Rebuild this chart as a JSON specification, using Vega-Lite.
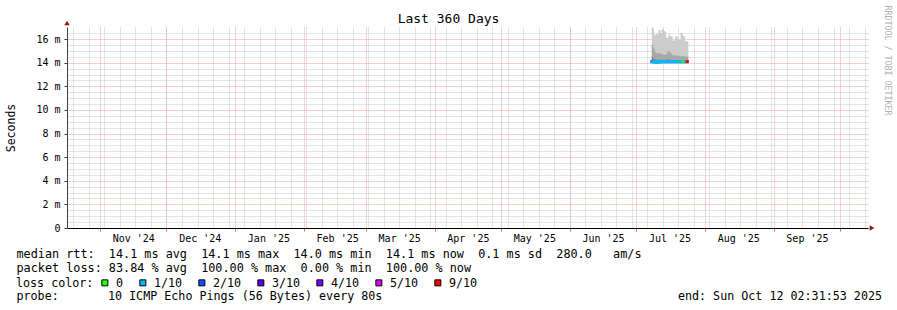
{
  "$schema": "https://vega.github.io/schema/vega-lite/v6.json",
  "width": 801,
  "height": 201,
  "autosize": {"type": "none"},
  "padding": {"left": 67, "top": 27, "right": 29, "bottom": 82},
  "background": "white",
  "config": {
    "font": "DejaVu Sans Mono",
    "view": {"stroke": null},
    "axis": {"labelFont": "DejaVu Sans Mono", "titleFont": "DejaVu Sans Mono", "titleFontWeight": "normal", "labelColor": "black", "titleColor": "black"}
  },
  "data": {
    "values": [
      {"t": "2025-07-08T00:00:00", "lo": 13.95, "dk": 14.5, "md": 15.5, "hi": 17.0, "med": 14.1, "loss": "2/10"},
      {"t": "2025-07-08T12:00:00", "lo": 13.95, "dk": 14.4, "md": 15.3, "hi": 16.9, "med": 14.1, "loss": "1/10"},
      {"t": "2025-07-09T00:00:00", "lo": 13.95, "dk": 14.3, "md": 15.1, "hi": 16.4, "med": 14.08, "loss": "1/10"},
      {"t": "2025-07-09T12:00:00", "lo": 13.95, "dk": 14.25, "md": 14.9, "hi": 16.3, "med": 14.05, "loss": "1/10"},
      {"t": "2025-07-10T00:00:00", "lo": 13.95, "dk": 14.25, "md": 14.8, "hi": 16.5, "med": 14.05, "loss": "1/10"},
      {"t": "2025-07-10T12:00:00", "lo": 13.95, "dk": 14.2, "md": 14.8, "hi": 16.4, "med": 14.05, "loss": "1/10"},
      {"t": "2025-07-11T00:00:00", "lo": 13.95, "dk": 14.25, "md": 14.85, "hi": 16.8, "med": 14.05, "loss": "1/10"},
      {"t": "2025-07-11T12:00:00", "lo": 13.95, "dk": 14.25, "md": 14.8, "hi": 16.75, "med": 14.08, "loss": "1/10"},
      {"t": "2025-07-12T00:00:00", "lo": 13.95, "dk": 14.2, "md": 14.75, "hi": 16.5, "med": 14.1, "loss": "1/10"},
      {"t": "2025-07-12T12:00:00", "lo": 13.95, "dk": 14.25, "md": 14.7, "hi": 16.85, "med": 14.1, "loss": "1/10"},
      {"t": "2025-07-13T00:00:00", "lo": 13.95, "dk": 14.2, "md": 14.7, "hi": 16.8, "med": 14.1, "loss": "1/10"},
      {"t": "2025-07-13T12:00:00", "lo": 13.95, "dk": 14.25, "md": 14.65, "hi": 16.7, "med": 14.1, "loss": "1/10"},
      {"t": "2025-07-14T00:00:00", "lo": 13.95, "dk": 14.2, "md": 14.7, "hi": 16.6, "med": 14.1, "loss": "1/10"},
      {"t": "2025-07-14T12:00:00", "lo": 13.95, "dk": 14.25, "md": 14.7, "hi": 16.1, "med": 14.1, "loss": "1/10"},
      {"t": "2025-07-15T00:00:00", "lo": 13.95, "dk": 14.3, "md": 15.0, "hi": 16.15, "med": 14.1, "loss": "1/10"},
      {"t": "2025-07-15T12:00:00", "lo": 13.95, "dk": 14.3, "md": 15.0, "hi": 16.5, "med": 14.1, "loss": "1/10"},
      {"t": "2025-07-16T00:00:00", "lo": 13.95, "dk": 14.25, "md": 14.9, "hi": 16.3, "med": 14.1, "loss": "1/10"},
      {"t": "2025-07-16T12:00:00", "lo": 13.95, "dk": 14.25, "md": 14.8, "hi": 16.25, "med": 14.1, "loss": "1/10"},
      {"t": "2025-07-17T00:00:00", "lo": 13.95, "dk": 14.2, "md": 14.65, "hi": 16.2, "med": 14.1, "loss": "1/10"},
      {"t": "2025-07-17T12:00:00", "lo": 13.95, "dk": 14.2, "md": 14.6, "hi": 15.85, "med": 14.1, "loss": "1/10"},
      {"t": "2025-07-18T00:00:00", "lo": 13.95, "dk": 14.2, "md": 14.65, "hi": 15.9, "med": 14.1, "loss": "1/10"},
      {"t": "2025-07-18T12:00:00", "lo": 13.95, "dk": 14.2, "md": 14.6, "hi": 16.2, "med": 14.1, "loss": "1/10"},
      {"t": "2025-07-19T00:00:00", "lo": 13.95, "dk": 14.25, "md": 14.65, "hi": 16.25, "med": 14.1, "loss": "1/10"},
      {"t": "2025-07-19T12:00:00", "lo": 13.95, "dk": 14.2, "md": 14.6, "hi": 16.15, "med": 14.1, "loss": "1/10"},
      {"t": "2025-07-20T00:00:00", "lo": 13.95, "dk": 14.2, "md": 14.6, "hi": 16.0, "med": 14.1, "loss": "1/10"},
      {"t": "2025-07-20T12:00:00", "lo": 13.95, "dk": 14.2, "md": 14.55, "hi": 15.95, "med": 14.1, "loss": "1/10"},
      {"t": "2025-07-21T00:00:00", "lo": 13.95, "dk": 14.2, "md": 14.6, "hi": 16.5, "med": 14.1, "loss": "1/10"},
      {"t": "2025-07-21T12:00:00", "lo": 13.95, "dk": 14.2, "md": 14.6, "hi": 16.45, "med": 14.1, "loss": "1/10"},
      {"t": "2025-07-22T00:00:00", "lo": 13.95, "dk": 14.2, "md": 14.55, "hi": 16.3, "med": 14.1, "loss": "0"},
      {"t": "2025-07-22T12:00:00", "lo": 13.95, "dk": 14.2, "md": 14.55, "hi": 16.2, "med": 14.1, "loss": "0"},
      {"t": "2025-07-23T00:00:00", "lo": 13.95, "dk": 14.2, "md": 14.5, "hi": 15.8, "med": 14.1, "loss": "1/10"},
      {"t": "2025-07-23T12:00:00", "lo": 13.95, "dk": 14.2, "md": 14.5, "hi": 15.85, "med": 14.1, "loss": "1/10"},
      {"t": "2025-07-24T00:00:00", "lo": 13.95, "dk": 14.2, "md": 14.5, "hi": 15.8, "med": 14.1, "loss": "9/10"},
      {"t": "2025-07-24T12:00:00", "lo": 13.95, "dk": 14.2, "md": 14.5, "hi": 15.8, "med": null, "loss": "9/10"}
    ]
  },
  "resolve": {"axis": {"x": "independent", "y": "independent"}},
  "layer": [
    {
      "mark": {"type": "area", "interpolate": "step-after", "color": "#cccccc", "opacity": 1},
      "encoding": {
        "x": {"field": "t", "type": "temporal",
          "scale": {"domain": [{"year": 2024, "month": 10, "date": 17, "hours": 2, "minutes": 31, "seconds": 53}, {"year": 2025, "month": 10, "date": 13, "hours": 13, "minutes": 30}], "nice": false},
          "axis": {"orient": "bottom", "tickCount": {"interval": "week", "step": 1}, "grid": true, "gridColor": "#c8c8c8", "gridDash": [1, 1], "gridWidth": 1, "labels": false, "ticks": false, "domain": false,
            "title": "probe:\u00a0\u00a0\u00a0\u00a0\u00a0\u00a0\u00a010 ICMP Echo Pings (56 Bytes) every 80s\u00a0\u00a0\u00a0\u00a0\u00a0\u00a0\u00a0\u00a0\u00a0\u00a0\u00a0\u00a0\u00a0\u00a0\u00a0\u00a0\u00a0\u00a0\u00a0\u00a0\u00a0\u00a0\u00a0\u00a0\u00a0\u00a0\u00a0\u00a0\u00a0\u00a0\u00a0\u00a0\u00a0\u00a0\u00a0\u00a0\u00a0\u00a0\u00a0\u00a0\u00a0\u00a0end: Sun Oct 12 02:31:53 2025",
            "titleFontSize": 11.7, "titleX": -51, "titleY": 62, "titleAlign": "left", "titleBaseline": "top", "titleAnchor": null, "titleLimit": 1000}},
        "y": {"field": "lo", "type": "quantitative",
          "scale": {"domain": [0, 17.03], "nice": false, "zero": true},
          "axis": {"orient": "left", "values": [0, 2, 4, 6, 8, 10, 12, 14, 16],
            "grid": true, "gridDash": [1, 1], "gridWidth": 1, "gridColor": "#f0a0a0",
            "ticks": true, "tickSize": 3, "tickColor": "#404040",
            "labelExpr": "datum.value == 0 ? '0' : datum.value + ' m'",
            "labelFontSize": 10, "labelPadding": 4, "labelOverlap": false,
            "domain": true, "domainColor": "#404040",
            "title": "Seconds", "titleFontSize": 11.5, "titleX": -56, "titleY": 100.5, "titleAngle": 270, "titleAlign": "center", "titleBaseline": "middle"}},
        "y2": {"field": "hi"}
      }
    },
    {
      "mark": {"type": "area", "interpolate": "step-after", "color": "#a8a8a8", "opacity": 1},
      "encoding": {
        "x": {"field": "t", "type": "temporal",
          "axis": {"orient": "bottom", "tickCount": {"interval": "month", "step": 1}, "grid": true, "gridColor": "#f0a0a0", "gridDash": [1, 1], "gridWidth": 1, "labels": false, "ticks": true, "tickSize": 3, "tickColor": "#e06060", "domain": true, "domainColor": "black", "domainWidth": 1, "title": null}},
        "y": {"field": "lo", "type": "quantitative",
          "axis": {"orient": "left", "values": [0.5, 1, 1.5, 2.5, 3, 3.5, 4.5, 5, 5.5, 6.5, 7, 7.5, 8.5, 9, 9.5, 10.5, 11, 11.5, 12.5, 13, 13.5, 14.5, 15, 15.5, 16.5],
            "grid": true, "gridDash": [1, 1], "gridWidth": 1, "gridColor": "#c8c8c8",
            "labels": false, "ticks": false, "domain": false, "title": null}},
        "y2": {"field": "md"}
      }
    },
    {
      "mark": {"type": "area", "interpolate": "step-after", "color": "#808080", "opacity": 1},
      "encoding": {
        "x": {"field": "t", "type": "temporal",
          "axis": {"orient": "top", "labels": false, "ticks": false, "domain": false, "grid": false,
            "title": "Last 360 Days", "titleFontSize": 13, "titleX": 381, "titleY": -8.5, "titleAlign": "center", "titleBaseline": "middle", "titleAnchor": null}},
        "y": {"field": "lo", "type": "quantitative",
          "axis": {"orient": "right", "labels": false, "ticks": false, "domain": false, "grid": false,
            "title": "RRDTOOL / TOBI OETIKER", "titleAngle": 90, "titleX": 18, "titleY": 33, "titleAlign": "center", "titleBaseline": "middle", "titleFontSize": 8.3, "titleColor": "#b0b0b0"}},
        "y2": {"field": "dk"}
      }
    },
    {
      "mark": {"type": "square", "size": 9, "opacity": 1, "filled": true},
      "encoding": {
        "x": {"field": "t", "type": "temporal",
          "axis": {"orient": "bottom", "values": [
              {"year": 2024, "month": 11, "date": 16}, {"year": 2024, "month": 12, "date": 16},
              {"year": 2025, "month": 1, "date": 16}, {"year": 2025, "month": 2, "date": 16},
              {"year": 2025, "month": 3, "date": 16}, {"year": 2025, "month": 4, "date": 16},
              {"year": 2025, "month": 5, "date": 16}, {"year": 2025, "month": 6, "date": 16},
              {"year": 2025, "month": 7, "date": 16}, {"year": 2025, "month": 8, "date": 16},
              {"year": 2025, "month": 9, "date": 16}],
            "format": "%b '%y", "labelFontSize": 10, "labelPadding": 5, "labelOverlap": false,
            "ticks": false, "domain": false, "grid": false,
            "title": [
              "median rtt:\u00a0\u00a014.1 ms avg\u00a0\u00a014.1 ms max\u00a0\u00a014.0 ms min\u00a0\u00a014.1 ms now\u00a0\u00a00.1 ms sd\u00a0\u00a0280.0\u00a0\u00a0\u00a0am/s",
              "packet loss: 83.84 % avg\u00a0\u00a0100.00 % max\u00a0\u00a00.00 % min\u00a0\u00a0100.00 % now"
            ],
            "titleFontSize": 11.8, "titleLineHeight": 14, "titleX": -51, "titleY": 20, "titleAlign": "left", "titleBaseline": "top", "titleAnchor": null, "titleLimit": 1000}},
        "y": {"field": "med", "type": "quantitative", "axis": null},
        "color": {"field": "loss", "type": "nominal",
          "scale": {"domain": ["0", "1/10", "2/10", "3/10", "4/10", "5/10", "9/10"], "range": ["#26ff00", "#00b8ff", "#0059ff", "#5e00ff", "#7e00ff", "#dd00ff", "#ff0000"]},
          "legend": {"orient": "none", "legendX": -51, "legendY": 250, "direction": "horizontal", "columns": 7,
            "title": "loss color:", "titleOrient": "left", "titleFont": "DejaVu Sans Mono", "titleFontSize": 11.7, "titleFontWeight": "normal", "titleColor": "black", "titlePadding": 5, "titleBaseline": "middle", "titleLimit": 200,
            "labelFont": "DejaVu Sans Mono", "labelFontSize": 11.7, "labelColor": "black", "labelOffset": 5.3,
            "labelExpr": "datum.label == '0' ? '\u00a00' : datum.label",
            "symbolType": "square", "symbolSize": 36, "symbolStrokeColor": "black", "symbolStrokeWidth": 1, "symbolOpacity": 1,
            "columnPadding": 13, "gridAlign": "none", "padding": 0}}
      }
    },
    {
      "data": {"values": [{}]},
      "mark": {"type": "point", "shape": "triangle-up", "filled": true, "size": 30, "color": "#8b1a1a", "opacity": 1, "yOffset": -4},
      "encoding": {
        "x": {"datum": {"year": 2024, "month": 10, "date": 17, "hours": 2, "minutes": 31, "seconds": 53}, "type": "temporal", "axis": null},
        "y": {"datum": 17.03, "type": "quantitative", "axis": null}
      }
    },
    {
      "data": {"values": [{}]},
      "mark": {"type": "point", "shape": "triangle-right", "filled": true, "size": 30, "color": "#8b1a1a", "opacity": 1, "xOffset": 4},
      "encoding": {
        "x": {"datum": {"year": 2025, "month": 10, "date": 13, "hours": 13, "minutes": 30}, "type": "temporal", "axis": null},
        "y": {"datum": 0, "type": "quantitative", "axis": null}
      }
    }
  ]
}
